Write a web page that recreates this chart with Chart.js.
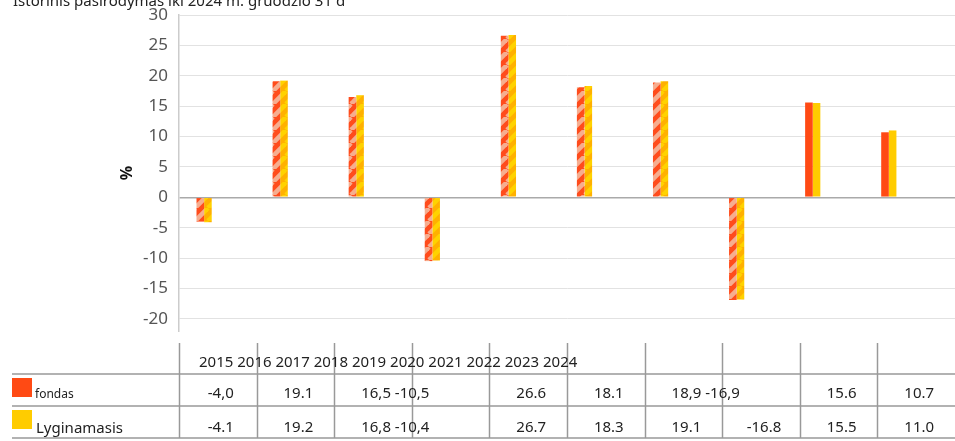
<!DOCTYPE html>
<html>
<head>
<meta charset="utf-8">
<script src="https://cdn.jsdelivr.net/npm/chart.js@4.4.1/dist/chart.umd.min.js"></script>
<style>
  body { margin: 0; background: #fff; }
  #wrap { width: 955px; height: 441px; }
</style>
</head>
<body>
<div id="wrap"><canvas id="barChart" width="955" height="441"></canvas></div>
<script>
// Data
const years = [2015, 2016, 2017, 2018, 2019, 2020, 2021, 2022, 2023, 2024];
const fondas = [-4.0, 19.1, 16.5, -10.5, 26.6, 18.1, 18.9, -16.9, 15.6, 10.7];
const lyginamasis = [-4.1, 19.2, 16.8, -10.4, 26.7, 18.3, 19.1, -16.8, 15.5, 11.0];
const yTicks = [30, 25, 20, 15, 10, 5, 0, -5, -10, -15, -20];

// Table texts (as printed under the chart)
const tableHeader = '2015 2016 2017 2018 2019 2020 2021 2022 2023 2024';
const fondasCells = ['-4,0', '19.1', '16,5 -10,5', '', '26.6', '18.1', '18,9 -16,9', '', '15.6', '10.7'];
const lyginCells = ['-4.1', '19.2', '16,8 -10,4', '', '26.7', '18.3', '19.1', '-16.8', '15.5', '11.0'];
const chartTitle = 'Istorinis pasirodymas iki 2024 m. gruodžio 31 d';

const ctx = document.getElementById('barChart').getContext('2d');

// diagonal striped fill
function stripes(base, stripe) {
    const s = 13;
    const p = document.createElement('canvas');
    p.width = s; p.height = s;
    const g = p.getContext('2d');
    g.fillStyle = base;
    g.fillRect(0, 0, s, s);
    g.strokeStyle = stripe;
    g.lineWidth = 4.6;
    for (const o of [-s, 0, s]) {
        g.beginPath();
        g.moveTo(o, s);
        g.lineTo(o + s, 0);
        g.stroke();
    }
    return ctx.createPattern(p, 'repeat');
}

const fondasHatch = stripes('#ff4c1c', '#f6ad8f');
const lyginHatch = stripes('#ffb100', '#ffd200');
// last two years are solid
const fondasColors = years.map((y, i) => i < 8 ? fondasHatch : '#ff4a14');
const lyginColors = years.map((y, i) => i < 8 ? lyginHatch : '#ffcc00');

const FONT = "'Noto Sans', 'DejaVu Sans', sans-serif";

// title + table under the plot
const tablePlugin = {
    id: 'tablePlugin',
    afterDraw(chart) {
        const c = chart.ctx;
        const area = chart.chartArea;
        const colW = (area.right - area.left) / years.length;
        c.save();

        // title (cut at top)
        c.fillStyle = '#222';
        c.font = '15px ' + FONT;
        c.textAlign = 'left';
        c.textBaseline = 'alphabetic';
        c.fillText(chartTitle, 13, 6);

        // grid lines of table
        c.strokeStyle = '#999';
        c.lineWidth = 1.5;
        [374, 406, 438].forEach(y => {
            c.beginPath();
            c.moveTo(12, y);
            c.lineTo(955, y);
            c.stroke();
        });
        for (let i = 0; i < years.length; i++) {
            const x = Math.round(area.left + i * colW) + 0.5;
            c.beginPath();
            c.moveTo(x, 343);
            c.lineTo(x, 438);
            c.stroke();
        }

        // header
        c.fillStyle = '#222';
        c.font = '15px ' + FONT;
        c.fillText(tableHeader, 199, 367);

        // legend swatches
        c.fillStyle = '#ff4a14';
        c.fillRect(12, 378, 20, 19);
        c.fillStyle = '#ffcc00';
        c.fillRect(12, 410, 20, 19);
        c.fillStyle = '#222';
        c.font = '12px ' + FONT;
        c.fillText('fondas', 35, 398);
        c.font = '15px ' + FONT;
        c.fillText('Lyginamasis', 36, 433);

        // cells
        const drawRow = (cells, yBase) => {
            cells.forEach((t, i) => {
                if (!t) return;
                const x0 = area.left + i * colW;
                if (t.indexOf(' ') > -1) {
                    c.textAlign = 'left';
                    c.fillText(t, x0 + 27, yBase);
                } else {
                    c.textAlign = 'center';
                    c.fillText(t, x0 + colW / 2 + 3, yBase);
                }
            });
        };
        c.font = '15px ' + FONT;
        drawRow(fondasCells, 398);
        drawRow(lyginCells, 432);
        c.restore();
    }
};

const config = {
    type: 'bar',
    data: {
        datasets: [
            {
                label: 'fondas',
                data: years.map((y, i) => ({ x: y, y: fondas[i] })),
                backgroundColor: fondasColors,
                borderWidth: 0,
                categoryPercentage: 0.2,
                barPercentage: 1,
            },
            {
                label: 'Lyginamasis',
                data: years.map((y, i) => ({ x: y, y: lyginamasis[i] })),
                backgroundColor: lyginColors,
                borderWidth: 0,
                categoryPercentage: 0.2,
                barPercentage: 1,
            },
        ],
    },
    options: {
        responsive: false,
        animation: false,
        layout: {
            padding: { left: 114, top: 15, right: 0, bottom: 110 },
        },
        plugins: {
            legend: { display: false },
            tooltip: { enabled: false },
        },
        scales: {
            x: {
                type: 'linear',
                display: false,
                offset: false,
                min: 2014.67,
                max: 2024.87,
            },
            y: {
                min: -22,
                max: 30,
                afterBuildTicks(scale) {
                    scale.ticks = yTicks.map(v => ({ value: v }));
                },
                afterFit(scale) {
                    scale.width = 65;
                    scale.paddingTop = 0;
                    scale.paddingBottom = 0;
                },
                ticks: {
                    stepSize: 5,
                    padding: 11,
                    color: '#555',
                    font: { family: FONT, size: 17, lineHeight: 1 },
                },
                grid: {
                    drawTicks: false,
                    color: c => c.tick && c.tick.value === 0 ? '#aaa' : '#e2e2e2',
                    lineWidth: c => c.tick && c.tick.value === 0 ? 1.5 : 1,
                },
                border: { color: '#ccc', width: 1.5 },
                title: {
                    display: true,
                    text: '%',
                    color: '#111',
                    font: { family: FONT, size: 16, weight: 'bold' },
                    padding: { top: 4, bottom: 4 },
                },
            },
        },
    },
    plugins: [tablePlugin],
};

const barChart = new Chart(ctx, config);
</script>
</body>
</html>
